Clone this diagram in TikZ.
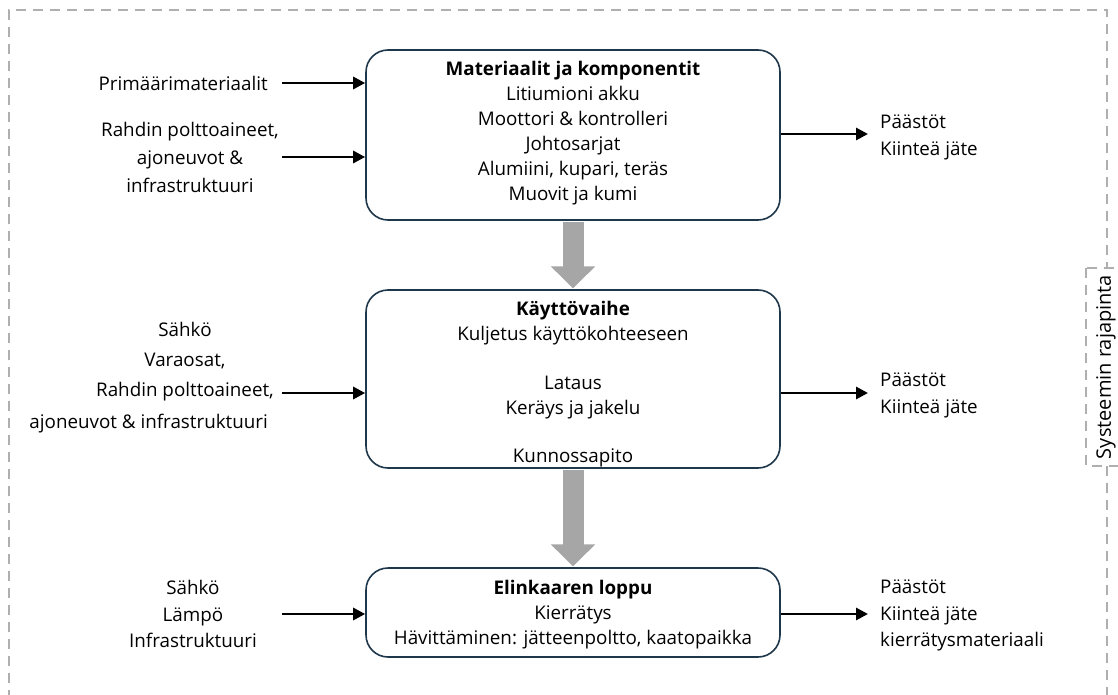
\documentclass[tikz,border=0pt]{standalone}
\usepackage{fontspec}
\setmainfont{Open Sans}
\usetikzlibrary{arrows.meta}
\definecolor{boxline}{RGB}{30,55,75}
\definecolor{flowgray}{RGB}{166,166,166}
\definecolor{borderg}{RGB}{175,175,175}
\begin{document}
\begin{tikzpicture}[x=1pt,y=-1pt,
  stage/.style={draw=boxline, line width=1.6pt, rounded corners=22pt, fill=white,
    minimum width=414pt, inner sep=0pt},
  stxt/.style={align=center, font=\fontsize{18.8}{25}\selectfont, inner sep=0pt},
  lbl/.style={align=center, font=\fontsize{18.8}{28}\selectfont, inner sep=0pt},
  lblr/.style={align=left, font=\fontsize{18.8}{27}\selectfont, inner sep=0pt, anchor=west},
  arr/.style={line width=2.8pt, -{Triangle[length=12pt,width=12pt]}},
  flow/.style={flowgray, line width=21pt, -{Triangle[length=22pt,width=43pt]}, shorten <=0.8pt, shorten >=0.8pt},
  bord/.style={borderg, line width=1.3pt, dash pattern=on 10pt off 7pt}
]
\useasboundingbox (0,0) rectangle (1118,695);

% system boundary
\draw[bord] (9,700) -- (9,10) -- (1107,10) -- (1107,700);
\draw[bord, fill=white] (1086,268) rectangle (1140,466);
\node[rotate=90, font=\fontsize{20}{22}\selectfont, inner sep=0pt] (sys) at (1106,367) {Systeemin rajapinta};

% stages
\node[stage, minimum height=170pt] (b1) at (573,135) {};
\node[stage, minimum height=178pt] (b2) at (573,379) {};
\node[stage, minimum height=89pt] (b3) at (573,612.5) {};
\node[stxt] (t1) at (573,133.5) {\textbf{Materiaalit ja komponentit}\\Litiumioni akku\\Moottori \& kontrolleri\\Johtosarjat\\Alumiini, kupari, teräs\\Muovit ja kumi};
\node[stxt] (t2) at (573,384) {\textbf{Käyttövaihe}\\Kuljetus käyttökohteeseen\\[24pt]Lataus\\Keräys ja jakelu\\[23pt]Kunnossapito};
\node[stxt] (t3) at (573,614.5) {\textbf{Elinkaaren loppu}\\Kierrätys\\Hävittäminen: jätteenpoltto, kaatopaikka};

% flow arrows
\draw[flow] (b1.south) -- (b2.north);
\draw[flow] (b2.south) -- (b3.north);

% inputs
\node[lbl, anchor=east] (i1) at (268,83) {Primäärimateriaalit};
\node[lbl] (i2) at (190,157) {Rahdin polttoaineet,\\ajoneuvot \&\\infrastruktuuri};
\node[lbl, font=\fontsize{18.8}{30}\selectfont] (i3) at (185,362) {Sähkö\\Varaosat,\\Rahdin polttoaineet,};
\node[lbl, anchor=east] (i3b) at (268,424) {ajoneuvot \& infrastruktuuri};
\node[lbl, font=\fontsize{18.8}{26.5}\selectfont] (i4) at (193,614) {Sähkö\\Lämpö\\Infrastruktuuri};

\coordinate (a1) at (282,83);
\coordinate (a2) at (282,157);
\coordinate (a3) at (282,393);
\coordinate (a4) at (282,614);
\draw[arr] (a1) -- (a1 -| b1.west);
\draw[arr] (a2) -- (a2 -| b1.west);
\draw[arr] (a3) -- (a3 -| b2.west);
\draw[arr] (a4) -- (a4 -| b3.west);

% outputs
\node[lblr] (o1) at (880,137) {Päästöt\\Kiinteä jäte};
\node[lblr] (o2) at (880,395) {Päästöt\\Kiinteä jäte};
\node[lblr, font=\fontsize{18.8}{26.5}\selectfont] (o3) at (880,615.5) {Päästöt\\Kiinteä jäte\\kierrätysmateriaali};

\coordinate (c1) at (868,134);
\coordinate (c2) at (868,393);
\coordinate (c3) at (868,614);
\draw[arr] (c1 -| b1.east) -- (c1);
\draw[arr] (c2 -| b2.east) -- (c2);
\draw[arr] (c3 -| b3.east) -- (c3);
\end{tikzpicture}
\end{document}
